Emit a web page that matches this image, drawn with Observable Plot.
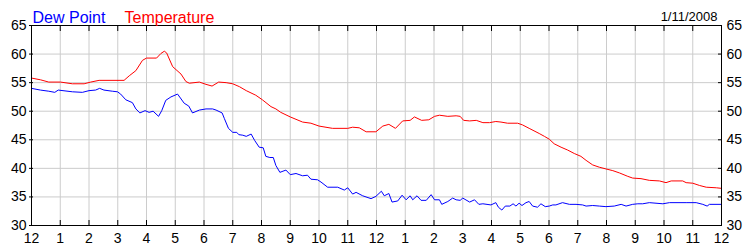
<!DOCTYPE html>
<html><head><meta charset="utf-8">
<script src="https://cdn.jsdelivr.net/npm/d3@7"></script>
<script src="https://cdn.jsdelivr.net/npm/@observablehq/plot@0.6"></script>
<style>body{margin:0;background:#fff}</style>
</head><body><div id="chart"></div>
<script>
const hourTicks = d3.range(0, 25);
const hourLabels = ["12","1","2","3","4","5","6","7","8","9","10","11","12","1","2","3","4","5","6","7","8","9","10","11","12"];
const yTicks = [30, 35, 40, 45, 50, 55, 60, 65];
const titleDew = "Dew Point";
const titleTemp = "Temperature";
const dateLabel = "1/11/2008";

const tempHours = [0,0.31,0.6,1.01,1.42,1.83,2.06,2.35,3.22,3.40,3.63,3.86,4.0,4.35,4.5,4.62,4.70,4.91,5.2,5.37,5.49,5.84,6.07,6.28,6.51,6.77,7.0,7.23,7.47,7.80,8.03,8.33,8.50,8.67,9.0,9.43,9.72,10.0,10.47,11.0,11.17,11.40,11.64,11.98,12.22,12.43,12.66,12.91,13.17,13.32,13.57,13.82,14.02,14.19,14.48,14.77,14.91,15.03,15.24,15.47,15.70,15.93,16.15,16.33,16.56,16.91,17.08,17.31,17.66,17.84,18.01,18.18,18.42,18.65,18.88,19.11,19.29,19.52,19.75,19.98,20.22,20.45,20.74,20.91,21.20,21.49,21.84,22.07,22.25,22.65,22.77,23.0,23.24,23.47,23.82,24.0];
const tempValues = [55.8,55.5,55.1,55.1,54.8,54.8,55.1,55.4,55.4,56.2,57.1,58.9,59.3,59.3,60.1,60.5,60.2,57.8,56.5,55.2,54.9,55.1,54.7,54.4,55.1,55.0,54.8,54.3,53.6,52.8,52.0,50.8,50.4,49.8,49.0,48.1,47.9,47.4,47.0,47.0,47.2,47.1,46.4,46.4,47.4,47.7,47.0,48.3,48.4,49.0,48.4,48.5,49.1,49.3,49.1,49.2,49.1,48.4,48.3,48.4,48.0,48.0,48.2,48.1,47.9,47.9,47.6,47.0,46.1,45.6,45.1,44.3,43.7,43.2,42.6,42.1,41.4,40.6,40.2,39.9,39.6,39.2,38.6,38.3,38.2,37.9,37.8,37.5,37.8,37.8,37.5,37.4,37.0,36.7,36.6,36.5];

const dewHours = [0,0.31,0.60,0.81,0.93,1.42,1.77,2.0,2.23,2.37,2.52,2.81,2.99,3.10,3.28,3.51,3.63,3.77,3.95,4.09,4.23,4.42,4.53,4.67,4.85,5.08,5.31,5.47,5.60,5.84,6.07,6.30,6.42,6.63,6.71,6.85,7.0,7.14,7.21,7.35,7.47,7.64,7.76,7.92,8.06,8.15,8.29,8.41,8.50,8.64,8.85,9.0,9.20,9.43,9.60,9.72,9.95,10.07,10.30,10.65,10.88,11.0,11.17,11.29,11.52,11.81,11.98,12.17,12.27,12.43,12.54,12.74,12.89,13.03,13.17,13.26,13.41,13.55,13.73,13.90,14.02,14.19,14.27,14.48,14.65,14.77,14.91,15.0,15.24,15.41,15.56,15.70,15.98,16.15,16.24,16.36,16.48,16.64,16.75,16.85,16.96,17.06,17.20,17.31,17.43,17.60,17.72,17.87,18.01,18.13,18.24,18.47,18.71,18.94,19.17,19.29,19.52,19.75,19.98,20.27,20.51,20.68,20.91,21.09,21.26,21.49,21.96,22.19,22.77,23.12,23.35,23.50,23.58,24.0];
const dewValues = [54.0,53.7,53.5,53.3,53.7,53.4,53.3,53.6,53.7,54.0,53.7,53.5,53.4,53.0,52.0,51.5,50.4,49.7,50.1,49.8,50.0,49.1,50.1,51.9,52.5,53.0,51.4,50.9,49.7,50.2,50.4,50.4,50.2,49.7,48.7,47.0,46.3,46.3,45.9,45.8,45.6,46.0,44.9,43.7,43.6,42.1,41.9,41.9,40.5,39.3,39.7,38.9,39.1,38.7,38.8,38.1,38.0,37.6,36.7,36.7,36.2,36.6,35.5,35.8,35.2,34.7,35.1,36.0,35.2,35.6,34.1,34.3,35.3,34.5,35.2,34.5,35.2,34.4,34.4,35.4,34.5,34.5,33.7,34.2,34.8,34.5,34.4,34.8,34.1,34.5,33.7,33.8,33.6,34.0,33.2,32.7,33.4,33.4,33.8,33.4,33.9,33.5,34.0,34.2,33.4,33.2,33.8,33.3,33.4,33.6,33.6,34.0,33.7,33.7,33.6,33.4,33.5,33.4,33.3,33.4,33.7,33.4,33.7,33.8,33.8,34.0,33.8,34.0,34.0,34.0,33.7,33.4,33.7,33.7];

const tempData = tempHours.map((h, i) => ({h, v: tempValues[i]}));
const dewData = dewHours.map((h, i) => ({h, v: dewValues[i]}));

const chart = Plot.plot({
  width: 750, height: 250,
  marginLeft: 31, marginRight: 29, marginTop: 25, marginBottom: 25,
  style: {fontFamily: "Arial, 'Liberation Sans', sans-serif", fontSize: "14px", background: "white", color: "black"},
  x: {domain: [0, 24]},
  y: {domain: [30, 65]},
  marks: [
    Plot.gridX(hourTicks, {stroke: "#cccccc", strokeOpacity: 1}),
    Plot.gridY(yTicks, {stroke: "#cccccc", strokeOpacity: 1}),
    Plot.line(tempData, {x: "h", y: "v", stroke: "#ff0000", strokeWidth: 1}),
    Plot.line(dewData, {x: "h", y: "v", stroke: "#0000ff", strokeWidth: 1}),
    Plot.frame({stroke: "black"}),
    Plot.axisX(hourTicks, {anchor: "bottom", tickSize: 0, tickPadding: 8, tickFormat: d => hourLabels[d], label: null, fontSize: 14}),
    Plot.axisX(hourTicks, {anchor: "bottom", tickSize: 5, dy: -5, tickFormat: () => "", label: null}),
    Plot.axisX(hourTicks, {anchor: "top", tickSize: 5, dy: 5, tickFormat: () => "", label: null}),
    Plot.axisY(yTicks, {anchor: "left", tickSize: 0, tickPadding: 5, label: null, fontSize: 14}),
    Plot.axisY(yTicks, {anchor: "left", tickSize: 4, dx: 2, tickFormat: () => "", label: null}),
    Plot.axisY(yTicks, {anchor: "right", tickSize: 0, tickPadding: 5, label: null, fontSize: 14}),
    Plot.axisY(yTicks, {anchor: "right", tickSize: 4, dx: -4, tickFormat: () => "", label: null}),
    Plot.text([titleDew], {text: d => d, frameAnchor: "top-left", dx: 1, dy: -14, textAnchor: "start", fill: "#0000ff", fontSize: 16}),
    Plot.text([titleTemp], {text: d => d, frameAnchor: "top-left", dx: 93, dy: -14, textAnchor: "start", fill: "#ff0000", fontSize: 16}),
    Plot.text([dateLabel], {text: d => d, frameAnchor: "top-right", dx: -4, dy: -14, textAnchor: "end", fill: "black", fontSize: 13})
  ]
});
document.getElementById("chart").appendChild(chart);
</script>
</body></html>
